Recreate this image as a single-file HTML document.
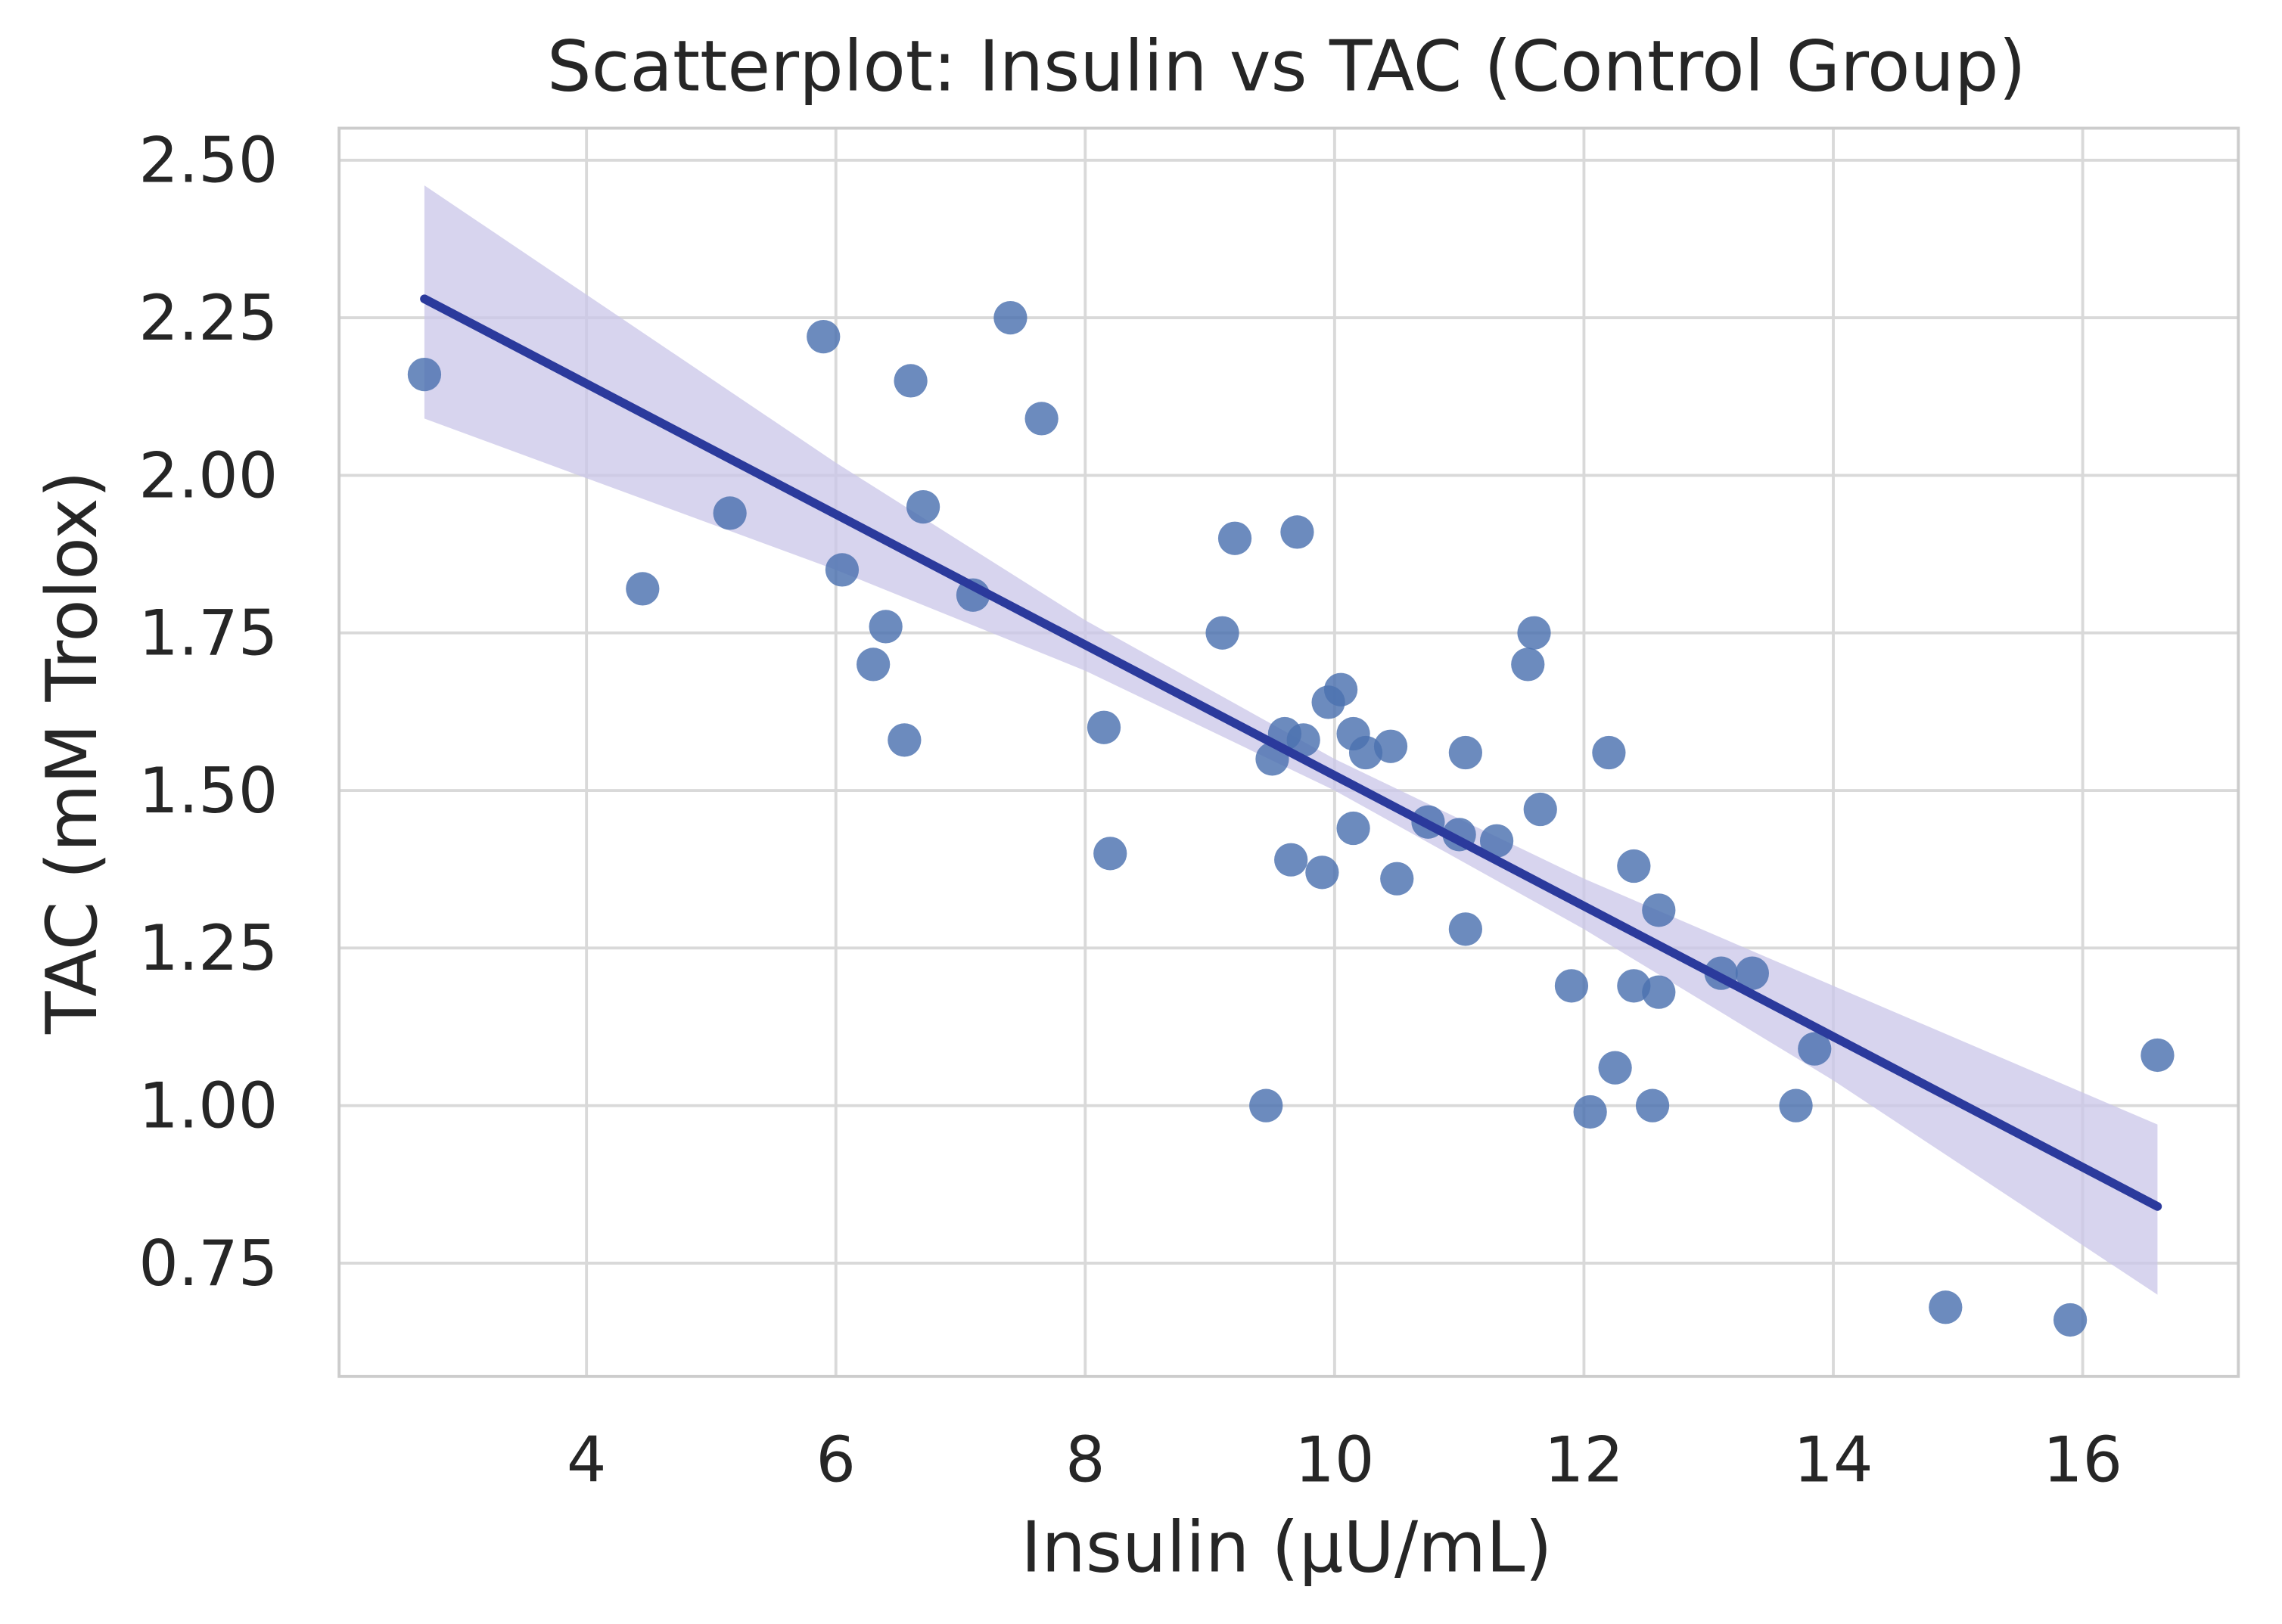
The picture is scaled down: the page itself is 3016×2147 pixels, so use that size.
<!DOCTYPE html>
<html><head><meta charset="utf-8"><style>
html,body{margin:0;padding:0;background:#fff;}
svg{display:block;font-family:"DejaVu Sans","Liberation Sans",sans-serif;}
</style></head><body>
<svg id="chart" width="3016" height="2147" viewBox="0 0 1568 1116" xmlns="http://www.w3.org/2000/svg">
<rect x="0" y="0" width="1568" height="1116" fill="#fff"/>
<g id="grid"></g>
<g id="band"></g>
<g id="dots"></g>
<g id="fit"></g>
<rect x="233" y="88" width="1305" height="858" fill="none" stroke="#cccccc" stroke-width="2"/>
<g id="ticks" fill="#262626" font-size="43"></g>
<text x="884" y="62" text-anchor="middle" font-size="48" fill="#262626">Scatterplot: Insulin vs TAC (Control Group)</text>
<text x="884" y="1080" text-anchor="middle" font-size="48" fill="#262626">Insulin (µU/mL)</text>
<text transform="translate(66,517) rotate(-90)" text-anchor="middle" font-size="48" fill="#262626">TAC (mM Trolox)</text>
</svg>
<script>
const xTicks=[4,6,8,10,12,14,16];
const yTicks=[0.75,1.00,1.25,1.50,1.75,2.00,2.25,2.50];
const insulin=[2.7,4.45,5.15,5.9,6.05,6.4,6.3,6.55,6.6,6.7,7.1,7.4,7.65,8.15,8.2,9.1,9.2,9.45,9.5,9.6,9.65,9.7,9.75,9.9,9.95,10.05,10.15,10.15,10.25,10.45,10.5,10.75,11.0,11.05,11.05,11.3,11.55,11.6,11.65,11.9,12.05,12.2,12.25,12.4,12.4,12.55,12.6,12.6,13.1,13.35,13.7,13.85,14.9,15.9,16.6];
const tac=[2.16,1.82,1.94,2.22,1.85,1.76,1.70,1.58,2.15,1.95,1.81,2.25,2.09,1.60,1.40,1.75,1.90,1.00,1.55,1.59,1.39,1.91,1.58,1.37,1.64,1.66,1.59,1.44,1.56,1.57,1.36,1.45,1.43,1.56,1.28,1.42,1.70,1.75,1.47,1.19,0.99,1.56,1.06,1.38,1.19,1.00,1.31,1.18,1.21,1.21,1.00,1.09,0.68,0.66,1.08];
const fitX=[2.7,16.6];
const fitY=[2.28,0.84];
const bandX=[2.7,6,8,10,12,14,16.6];
const bandLo=[2.09,1.85,1.69,1.50,1.28,1.04,0.70];
const bandHi=[2.46,2.02,1.77,1.55,1.36,1.19,0.97];
const NS='http://www.w3.org/2000/svg';
const sx=v=>403+(v-4)*85.67;
const sy=v=>110+(2.5-v)*433.2;
function mk(t,a,p){const e=document.createElementNS(NS,t);for(const k in a)e.setAttribute(k,a[k]);p.appendChild(e);return e;}
const grid=document.getElementById('grid'),ticks=document.getElementById('ticks');
xTicks.forEach(v=>{
 const l=mk('line',{x1:sx(v),x2:sx(v),y1:88,y2:946,stroke:'#d9d9d9','stroke-width':2},grid);
 
 
 const t=mk('text',{x:sx(v),y:1018,'text-anchor':'middle'},ticks);t.textContent=v;
 
 
});
yTicks.forEach(v=>{
 const l=mk('line',{x1:233,x2:1538,y1:sy(v),y2:sy(v),stroke:'#d9d9d9','stroke-width':2},grid);
 
 
 const t=mk('text',{x:191,y:sy(v)+15,'text-anchor':'end'},ticks);t.textContent=v.toFixed(2);
 
 
});
let d='';
bandX.forEach((x,i)=>{d+=(i?'L':'M')+sx(x)+','+sy(bandHi[i]);});
for(let i=bandX.length-1;i>=0;i--)d+='L'+sx(bandX[i])+','+sy(bandLo[i]);
const b=mk('path',{d:d+'Z',fill:'#c9c5e8','fill-opacity':0.75},document.getElementById('band'));


const dots=document.getElementById('dots');
insulin.forEach((x,i)=>{
 const c=mk('circle',{cx:sx(x),cy:sy(tac[i]),r:11.5,fill:'#4c72b0','fill-opacity':0.82},dots);
 
 
});
const ln=mk('line',{x1:sx(fitX[0]),y1:sy(fitY[0]),x2:sx(fitX[1]),y2:sy(fitY[1]),stroke:'#2b3a9c','stroke-width':6,'stroke-linecap':'round'},document.getElementById('fit'));


</script>
</body></html>
